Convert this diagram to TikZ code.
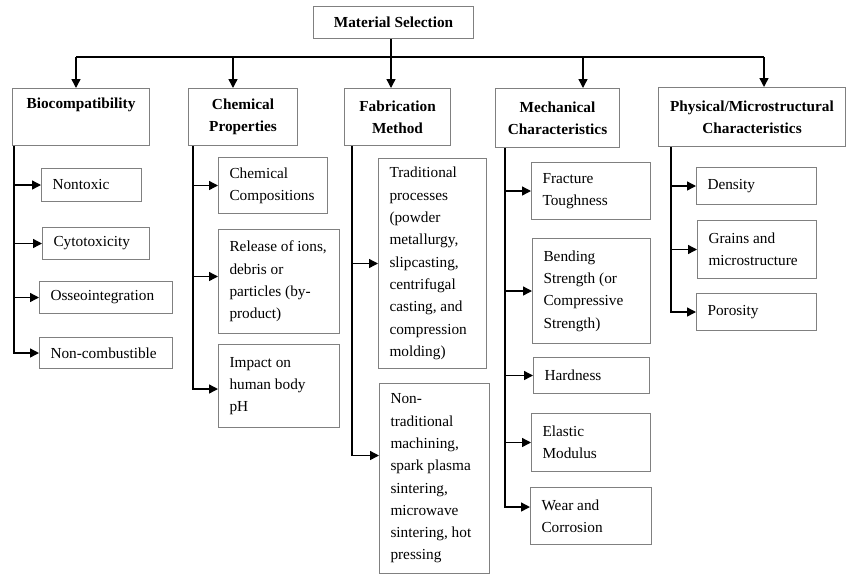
\documentclass[tikz,border=0pt]{standalone}
\usepackage{fontspec}
\setmainfont{Liberation Serif}
\usetikzlibrary{arrows.meta}
\tikzset{
  box/.style={draw=gray, line width=1pt, inner xsep=11pt, inner ysep=3pt, anchor=north west, align=flush left, font=\fontsize{15.3}{22.3}\selectfont},
  head/.style={box, inner xsep=4pt, align=flush center, font=\bfseries\fontsize{15.3}{21.8}\selectfont},
  sz/.style n args={3}{minimum width=#1pt, text width=#2pt, minimum height=#3pt},
  line/.style={line width=1.4pt},
  arr/.style={line, -{Triangle[length=9pt,width=9pt]}}
}
\begin{document}
\begin{tikzpicture}[x=1pt,y=-1pt]
	\useasboundingbox[fill=white] (0,0) rectangle (846,574);
	\node[head, sz={160}{152}{32}] (root) at (313,6) {Material Selection};
	\node[head, sz={137}{129}{57}] (bio) at (12,88) {Biocompatibility\\\strut};
	\node[head, sz={109}{101}{57}] (chem) at (188,88) {Chemical\\Properties};
	\node[head, sz={106}{98}{57}] (fab) at (344,88) {Fabrication\\Method};
	\node[head, sz={124}{116}{59}] (mech) at (495,88) {Mechanical\\Characteristics};
	\node[head, sz={187}{179}{59}] (phys) at (658,87) {Physical/Microstructural\\Characteristics};
	\node[box, sz={100}{78}{33}] (nontox) at (41,168) {Nontoxic};
	\node[box, sz={107}{85}{32}] (cyto) at (42,227) {Cytotoxicity};
	\node[box, sz={133}{111}{32}] (osseo) at (39,281) {Osseointegration};
	\node[box, sz={133}{111}{31}] (noncomb) at (39,337) {Non-combustible};
	\node[box, sz={109}{87}{56}] (comp) at (218,157) {Chemical\\Compositions};
	\node[box, sz={121}{99}{104}] (release) at (218,229) {\mbox{Release of ions,}\\debris or\\particles (by-\\product)};
	\node[box, sz={121}{99}{83}] (impact) at (218,344) {Impact on\\human body\\pH};
	\node[box, sz={108}{86}{210}] (trad) at (378,158) {Traditional\\processes\\(powder\\metallurgy,\\slipcasting,\\centrifugal\\casting, and\\compression\\molding)};
	\node[box, sz={110}{88}{190}] (nontrad) at (379,383) {Non-\\traditional\\machining,\\\mbox{spark plasma}\\sintering,\\microwave\\\mbox{sintering, hot}\\pressing};
	\node[box, sz={119}{97}{57}] (fract) at (531,162) {Fracture\\Toughness};
	\node[box, sz={118}{96}{105}] (bend) at (532,238) {Bending\\Strength (or\\Compressive\\Strength)};
	\node[box, sz={116}{94}{36}] (hard) at (533,357) {Hardness};
	\node[box, sz={119}{97}{58}] (elastic) at (531,413) {Elastic\\Modulus};
	\node[box, sz={121}{99}{57}] (wear) at (530,487) {Wear and\\Corrosion};
	\node[box, sz={120}{98}{37}] (dens) at (696,167) {Density};
	\node[box, sz={119}{97}{58}] (grains) at (697,220) {Grains and\\microstructure};
	\node[box, sz={120}{98}{37}] (poros) at (696,293) {Porosity};
	\coordinate (d1) at (76,57);
	\coordinate (d2) at (233,57);
	\coordinate (d3) at (391,57);
	\coordinate (d4) at (583,57);
	\coordinate (d5) at (764,57);
	\draw[line] (root.south -| d3) -- (d3);
	\draw[line] (d1) -- (d5);
	\foreach \d/\n in {d1/bio,d2/chem,d3/fab,d4/mech,d5/phys}
		\draw[arr] (\d) -- (\d |- \n.north);
	\coordinate (t1) at (14,0);
	\coordinate (t2) at (193,0);
	\coordinate (t3) at (352,0);
	\coordinate (t4) at (505,0);
	\coordinate (t5) at (671,0);
	\coordinate (rel) at ([yshift=5pt]release.west);
	\draw[arr] (t1 |- bio.south) |- (noncomb.west);
	\foreach \n in {nontox,cyto,osseo}
		\draw[arr] (t1 |- \n.west) -- (\n.west);
	\draw[arr] (t2 |- chem.south) |- ([yshift=-3pt]impact.west);
	\draw[arr] (t2 |- comp.west) -- (comp.west);
	\draw[arr] (t2 |- rel) -- (rel);
	\draw[arr] (t3 |- fab.south) |- ([yshift=23pt]nontrad.west);
	\draw[arr] (t3 |- trad.west) -- (trad.west);
	\draw[arr] (t4 |- mech.south) |- ([yshift=9pt]wear.west);
	\foreach \n in {fract,bend,hard,elastic}
		\draw[arr] (t4 |- \n.west) -- (\n.west);
	\draw[arr] (t5 |- phys.south) |- (poros.west);
	\foreach \n in {dens,grains}
		\draw[arr] (t5 |- \n.west) -- (\n.west);
\end{tikzpicture}
\end{document}
